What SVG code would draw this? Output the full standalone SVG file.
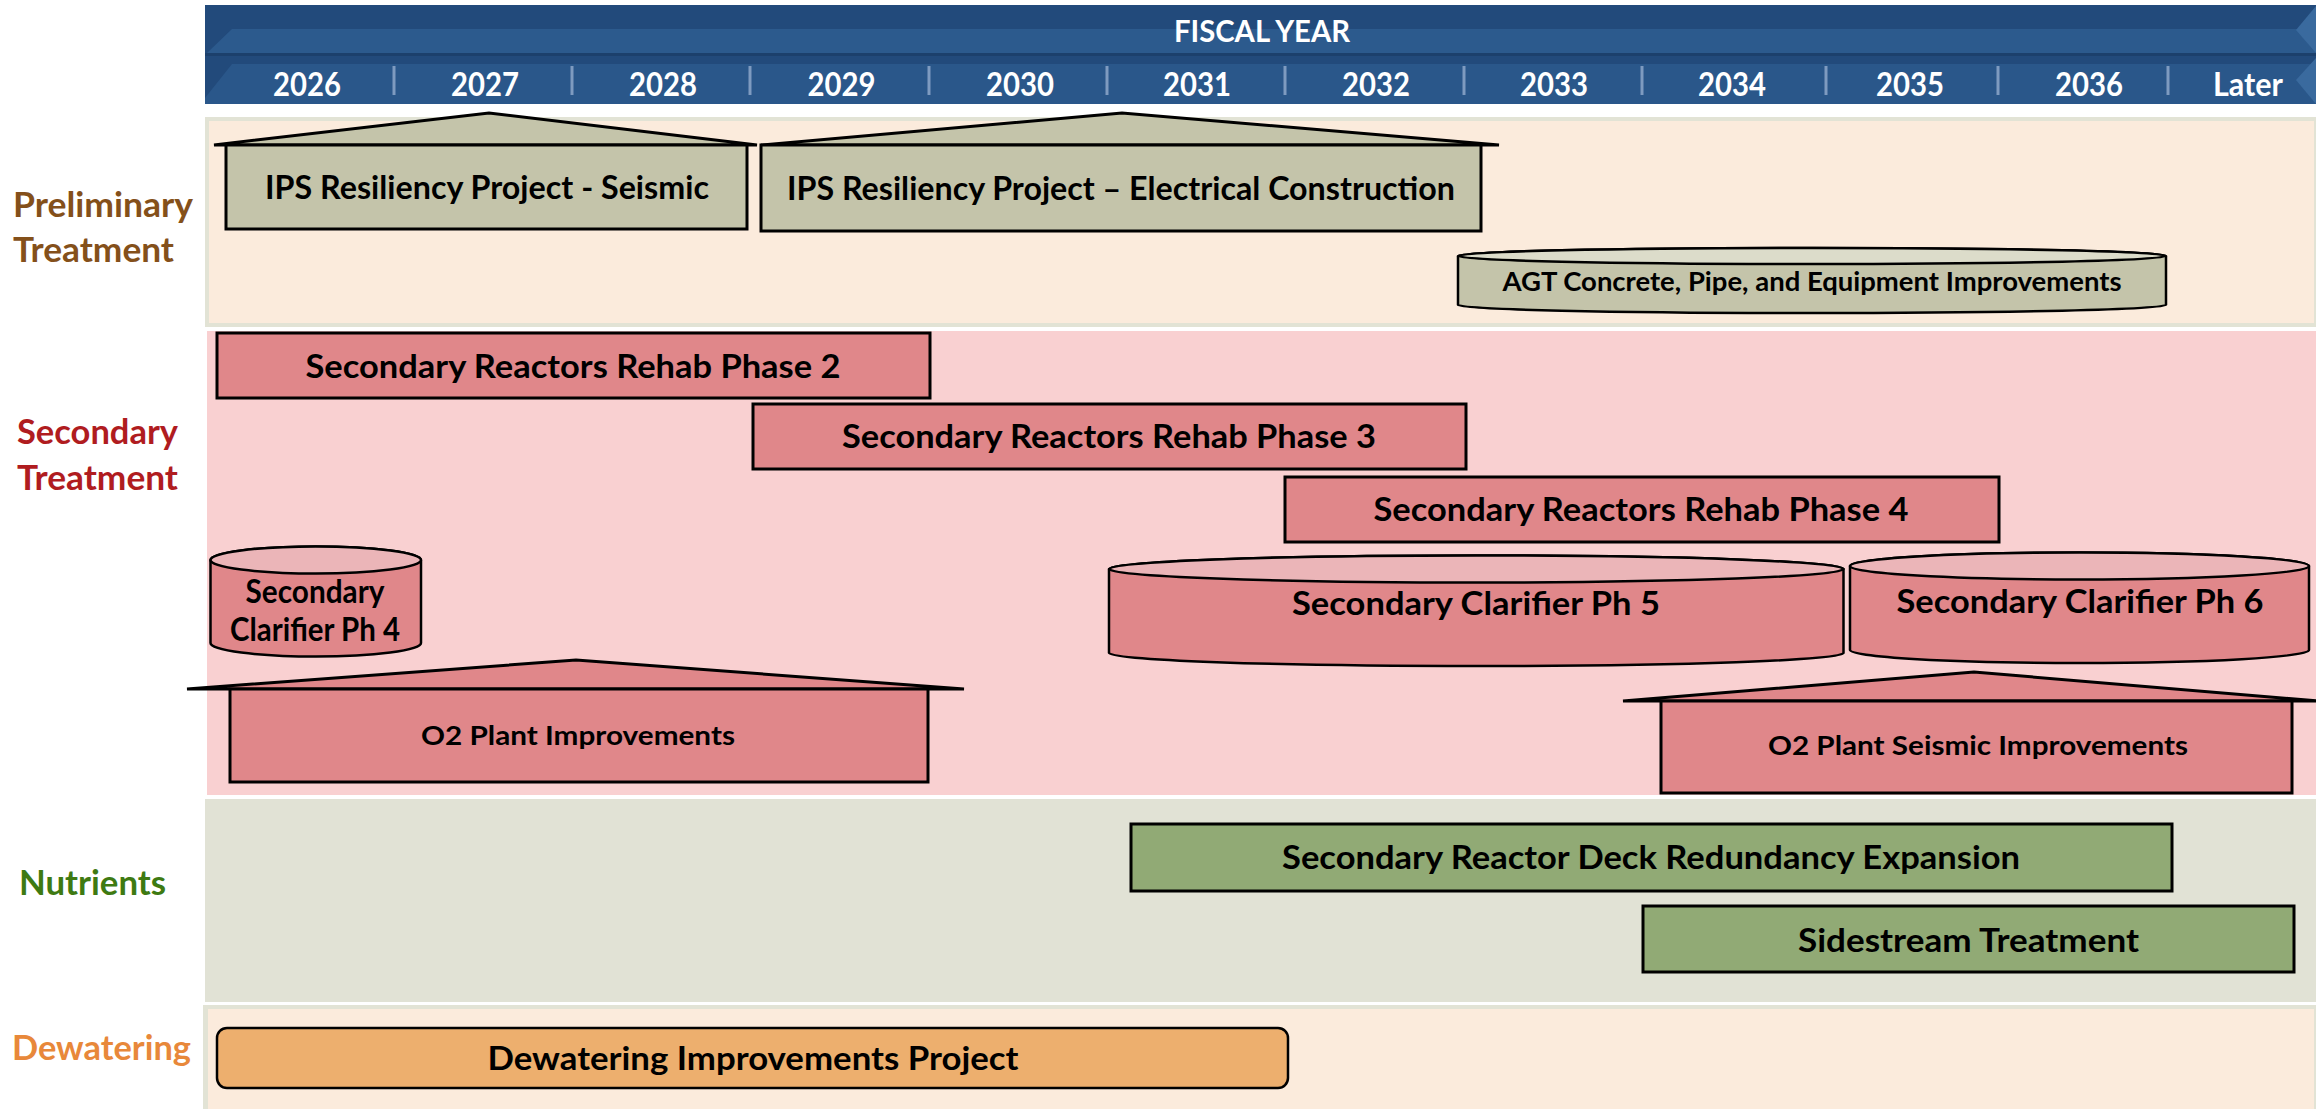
<svg xmlns="http://www.w3.org/2000/svg" width="2316" height="1109" viewBox="0 0 2316 1109">
<style>
text{font-family:Lato,"Open Sans","Liberation Sans",sans-serif;font-weight:bold}
.hdr{fill:#fff}
.yr{font-size:33px;text-anchor:middle;fill:#fff}
.lane{font-size:35px}
.nt{fill:#000;text-anchor:middle;font-size:32.5px}
.sm{font-size:27px}
.bx{stroke:#000;stroke-width:3}
.cy{stroke:#000;stroke-width:2.5}
.kh{fill:#C4C4AA}
.khT{fill:#DCDCCA}
.rd{fill:#E0878A}
.rdT{fill:#EBB5B8}
.gr{fill:#91AA75}
.or{fill:#EDAF6E}
.tick{stroke:#7E9BC0;stroke-width:3}
</style>
<rect width="2316" height="1109" fill="#fff"/>
<g id="header">
<rect x="205" y="5" width="2111" height="99" fill="#224A7B"/>
<polygon points="232,29 2316,29 2316,53 207,53" fill="#2C5A8D"/>
<rect x="205" y="53" width="2111" height="3" fill="#1C406C"/>
<polygon points="232,64 2316,64 2316,104 205,104 205,98" fill="#2A578A"/>
<polygon points="2316,6 2296,30 2316,53" fill="#3A6A9E"/>
<polygon points="2316,58 2296,80 2316,104" fill="#3A6A9E"/>
<text class="hdr" x="1262" y="42" font-size="31" text-anchor="middle" textLength="176" lengthAdjust="spacingAndGlyphs">FISCAL YEAR</text>
<g class="ticks">
<line class="tick" x1="394" y1="66" x2="394" y2="95"/>
<line class="tick" x1="572" y1="66" x2="572" y2="95"/>
<line class="tick" x1="750" y1="66" x2="750" y2="95"/>
<line class="tick" x1="929" y1="66" x2="929" y2="95"/>
<line class="tick" x1="1107" y1="66" x2="1107" y2="95"/>
<line class="tick" x1="1285" y1="66" x2="1285" y2="95"/>
<line class="tick" x1="1464" y1="66" x2="1464" y2="95"/>
<line class="tick" x1="1642" y1="66" x2="1642" y2="95"/>
<line class="tick" x1="1826" y1="66" x2="1826" y2="95"/>
<line class="tick" x1="1998" y1="66" x2="1998" y2="95"/>
<line class="tick" x1="2168" y1="66" x2="2168" y2="95"/>
</g>
<text class="yr" x="307" y="96" textLength="68" lengthAdjust="spacingAndGlyphs">2026</text>
<text class="yr" x="485" y="96" textLength="68" lengthAdjust="spacingAndGlyphs">2027</text>
<text class="yr" x="663" y="96" textLength="68" lengthAdjust="spacingAndGlyphs">2028</text>
<text class="yr" x="841.5" y="96" textLength="68" lengthAdjust="spacingAndGlyphs">2029</text>
<text class="yr" x="1020" y="96" textLength="68" lengthAdjust="spacingAndGlyphs">2030</text>
<text class="yr" x="1197" y="96" textLength="68" lengthAdjust="spacingAndGlyphs">2031</text>
<text class="yr" x="1376" y="96" textLength="68" lengthAdjust="spacingAndGlyphs">2032</text>
<text class="yr" x="1554" y="96" textLength="68" lengthAdjust="spacingAndGlyphs">2033</text>
<text class="yr" x="1732" y="96" textLength="68" lengthAdjust="spacingAndGlyphs">2034</text>
<text class="yr" x="1910" y="96" textLength="68" lengthAdjust="spacingAndGlyphs">2035</text>
<text class="yr" x="2089" y="96" textLength="68" lengthAdjust="spacingAndGlyphs">2036</text>
<text class="yr" x="2248" y="96" textLength="70" lengthAdjust="spacingAndGlyphs">Later</text>
</g>
<g id="lanes">
<rect x="205" y="117" width="2111" height="210" fill="#E2E3D5"/>
<rect x="209" y="121" width="2105" height="202" fill="#FBEBDC"/>
<rect x="207" y="331" width="2109" height="464" fill="#F9D0D1"/>
<rect x="205" y="799" width="2111" height="203" fill="#E1E2D5"/>
<rect x="203" y="1005" width="2113" height="104" fill="#E2E3D5"/>
<rect x="208" y="1009" width="2106" height="100" fill="#FBEBDC"/>
<text class="lane" x="13" y="217" fill="#84501A" textLength="180" lengthAdjust="spacingAndGlyphs">Preliminary</text>
<text class="lane" x="13" y="262" fill="#84501A" textLength="161" lengthAdjust="spacingAndGlyphs">Treatment</text>
<text class="lane" x="17" y="444" fill="#B01C1F" textLength="161" lengthAdjust="spacingAndGlyphs">Secondary</text>
<text class="lane" x="17" y="490" fill="#B01C1F" textLength="161" lengthAdjust="spacingAndGlyphs">Treatment</text>
<text class="lane" x="19" y="895" fill="#3E7A12" textLength="147" lengthAdjust="spacingAndGlyphs">Nutrients</text>
<text class="lane" x="12" y="1060" fill="#E8883A" textLength="179" lengthAdjust="spacingAndGlyphs">Dewatering</text>
</g>
<g id="connectors"></g>
<g id="ips-seismic">
<polygon class="kh bx" points="214,145 489,113 757,145"/>
<rect class="kh bx" x="226" y="145" width="521" height="84"/>
<text class="nt" x="487" y="199" textLength="444" lengthAdjust="spacingAndGlyphs">IPS Resiliency Project - Seismic</text>
</g>
<g id="ips-electrical">
<polygon class="kh bx" points="761,145 1122,113 1499,145"/>
<rect class="kh bx" x="761" y="145" width="720" height="86"/>
<text class="nt" x="1121" y="200" textLength="668" lengthAdjust="spacingAndGlyphs">IPS Resiliency Project – Electrical Construction</text>
</g>
<g id="agt">
<path class="kh cy" d="M1458,256 A354,8 0 0 1 2166,256 L2166,305 A354,8 0 0 1 1458,305 Z"/>
<ellipse class="khT cy" cx="1812" cy="256" rx="354" ry="8"/>
<text class="nt sm" x="1812" y="291" textLength="619" lengthAdjust="spacingAndGlyphs">AGT Concrete, Pipe, and Equipment Improvements</text>
</g>
<g id="reactors-ph2">
<rect class="rd bx" x="217" y="333" width="713" height="65"/>
<text class="nt" x="573" y="378" textLength="535" lengthAdjust="spacingAndGlyphs">Secondary Reactors Rehab Phase 2</text>
</g>
<g id="reactors-ph3">
<rect class="rd bx" x="753" y="404" width="713" height="65"/>
<text class="nt" x="1109" y="448" textLength="534" lengthAdjust="spacingAndGlyphs">Secondary Reactors Rehab Phase 3</text>
</g>
<g id="reactors-ph4">
<rect class="rd bx" x="1285" y="477" width="714" height="65"/>
<text class="nt" x="1641" y="521" textLength="535" lengthAdjust="spacingAndGlyphs">Secondary Reactors Rehab Phase 4</text>
</g>
<g id="clarifier-ph4">
<path class="rd cy" d="M210.5,560 A105.25,13.5 0 0 1 421,560 L421,643 A105.25,13.5 0 0 1 210.5,643 Z"/>
<ellipse class="rdT cy" cx="315.75" cy="560" rx="105.25" ry="13.5"/>
<text class="nt" x="315" y="603" font-size="29" textLength="139" lengthAdjust="spacingAndGlyphs">Secondary</text>
<text class="nt" x="315" y="641" font-size="29" textLength="170" lengthAdjust="spacingAndGlyphs">Clarifier Ph 4</text>
</g>
<g id="clarifier-ph5">
<path class="rd cy" d="M1109,569 A367.25,13.5 0 0 1 1843.5,569 L1843.5,653 A367.25,13 0 0 1 1109,653 Z"/>
<ellipse class="rdT cy" cx="1476.25" cy="569" rx="367.25" ry="13.5"/>
<text class="nt" x="1476" y="615" textLength="368" lengthAdjust="spacingAndGlyphs">Secondary Clarifier Ph 5</text>
</g>
<g id="clarifier-ph6">
<path class="rd cy" d="M1850,566 A229.5,13.5 0 0 1 2309,566 L2309,650 A229.5,13 0 0 1 1850,650 Z"/>
<ellipse class="rdT cy" cx="2079.5" cy="566" rx="229.5" ry="13.5"/>
<text class="nt" x="2080" y="613" textLength="367" lengthAdjust="spacingAndGlyphs">Secondary Clarifier Ph 6</text>
</g>
<g id="o2-plant">
<polygon class="rd bx" points="187,689 576,660 964,689"/>
<rect class="rd bx" x="230" y="689" width="698" height="93"/>
<text class="nt sm" x="578" y="745" textLength="314" lengthAdjust="spacingAndGlyphs">O2 Plant Improvements</text>
</g>
<g id="o2-seismic">
<polygon class="rd bx" points="1623,701 1974,672 2318,701"/>
<rect class="rd bx" x="1661" y="701" width="631" height="92"/>
<text class="nt sm" x="1978" y="755" textLength="420" lengthAdjust="spacingAndGlyphs">O2 Plant Seismic Improvements</text>
</g>
<g id="deck-expansion">
<rect class="gr bx" x="1131" y="824" width="1041" height="67"/>
<text class="nt" x="1651" y="869" textLength="738" lengthAdjust="spacingAndGlyphs">Secondary Reactor Deck Redundancy Expansion</text>
</g>
<g id="sidestream">
<rect class="gr bx" x="1643" y="906" width="651" height="66"/>
<text class="nt" x="1968.5" y="951.5" textLength="341" lengthAdjust="spacingAndGlyphs">Sidestream Treatment</text>
</g>
<g id="dewatering">
<rect class="or" x="217" y="1028" width="1071" height="60" rx="10" stroke="#000" stroke-width="2.5"/>
<text class="nt" x="753" y="1070" textLength="531" lengthAdjust="spacingAndGlyphs">Dewatering Improvements Project</text>
</g>
</svg>
